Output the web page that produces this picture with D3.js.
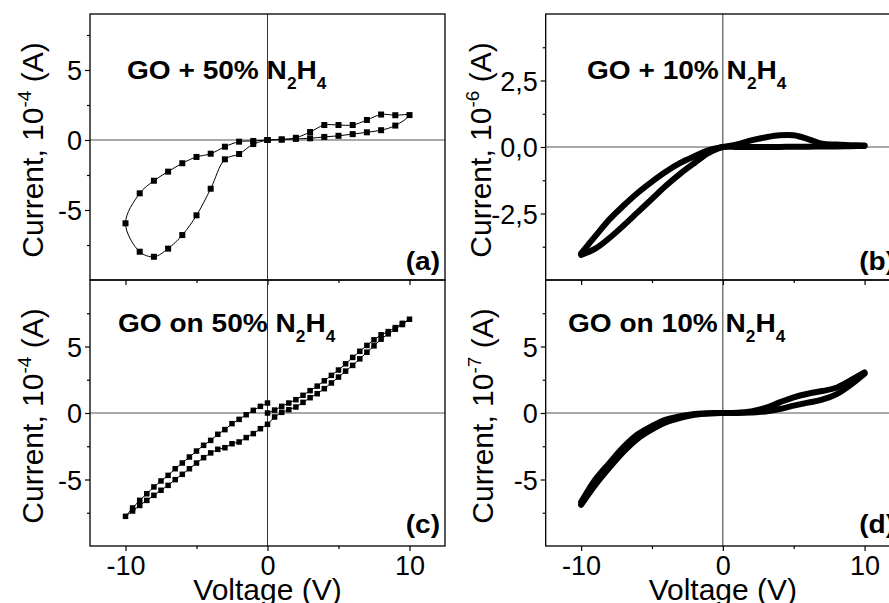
<!DOCTYPE html>
<html>
<head>
<meta charset="utf-8">
<script src="https://cdn.jsdelivr.net/npm/d3@7/dist/d3.min.js"></script>
<style>
  body { margin: 0; background: #fff; overflow: hidden; }
  text { font-family: Arial, "Liberation Sans", sans-serif; fill: #000; }
</style>
</head>
<body>
<div id="chart"></div>
<script>
// ---- data ----
// (a) GO + 50% N2H4, one sweep 0 -> 10 -> 0 -> -10 -> 0, current in 1e-4 A
const aVoltage = [0, 1, 2, 3, 4, 5, 6, 7, 8, 9, 10, 9, 8, 7, 6, 5, 4, 3, 2, 1, 0,
  -1, -2, -3, -4, -5, -6, -7, -8, -9, -10, -9, -8, -7, -6, -5, -4, -3, -2, -1, 0];
const aCurrent = [0, 0.03, 0.08, 0.12, 0.22, 0.3, 0.42, 0.55, 0.7, 1.03, 1.78,
  1.77, 1.82, 1.43, 1.07, 1.07, 1.07, 0.57, 0.16, 0.04, 0,
  -0.07, -0.12, -0.48, -0.98, -1.21, -1.66, -2.26, -2.91, -3.81, -5.95,
  -7.98, -8.34, -7.76, -6.79, -5.38, -3.48, -1.38, -1.0, -0.29, 0];

// (c) GO on 50% N2H4, 0.5 V steps, current in 1e-4 A
const cVoltage = [0, 0.5, 1, 1.5, 2, 2.5, 3, 3.5, 4, 4.5, 5, 5.5, 6, 6.5, 7, 7.5, 8, 8.5, 9, 9.5, 10,
  9.5, 9, 8.5, 8, 7.5, 7, 6.5, 6, 5.5, 5, 4.5, 4, 3.5, 3, 2.5, 2, 1.5, 1, 0.5, 0,
  -0.5, -1, -1.5, -2, -2.5, -3, -3.5, -4, -4.5, -5, -5.5, -6, -6.5, -7, -7.5, -8, -8.5, -9, -9.5, -10,
  -9.5, -9, -8.5, -8, -7.5, -7, -6.5, -6, -5.5, -5, -4.5, -4, -3.5, -3, -2.5, -2, -1.5, -1, -0.5, 0];
const cCurrent = [0, 0.22, 0.5, 0.75, 1.0, 1.33, 1.68, 2.02, 2.42, 2.83, 3.23, 3.7, 4.18, 4.64, 5.08, 5.5, 5.88, 6.12, 6.42, 6.74, 7.05,
  6.65, 6.3, 5.95, 5.55, 5.05, 4.57, 4.07, 3.58, 3.15, 2.7, 2.26, 1.83, 1.45, 1.15, 0.8, 0.45, 0.25, 0.05, -0.3, -0.85,
  -1.18, -1.55, -1.85, -2.18, -2.31, -2.61, -2.73, -3.0, -3.36, -3.76, -4.19, -4.61, -5.01, -5.44, -5.81, -6.19, -6.57, -6.95, -7.37, -7.77,
  -7.14, -6.57, -6.07, -5.56, -5.11, -4.69, -4.19, -3.76, -3.31, -2.86, -2.43, -2.06, -1.6, -1.25, -0.8, -0.48, -0.13, 0.2, 0.5, 0.75];

// (b) GO + 10% N2H4, current in 1e-6 A, two branches
const bVoltage = [-10, -9, -8, -7, -6, -5, -4, -3, -2, -1, 0, 1, 2, 3, 4, 5, 6, 7, 8, 9, 10];
const bUpper = [-4.0, -3.35, -2.72, -2.2, -1.72, -1.3, -0.92, -0.6, -0.35, -0.12, 0, 0.1, 0.25, 0.36, 0.44, 0.44, 0.3, 0.12, 0.09, 0.07, 0.06];
const bLower = [-4.06, -3.82, -3.42, -2.95, -2.45, -1.95, -1.45, -1.0, -0.6, -0.22, 0, 0, 0, 0, 0, 0.01, 0.01, 0.02, 0.02, 0.03, 0.04];

// (d) GO on 10% N2H4, current in 1e-7 A, two branches
const dVoltage = [-10, -9, -8, -7, -6, -5, -4, -3, -2, -1, 0, 1, 2, 3, 4, 5, 6, 7, 8, 9, 10];
const dUpper = [-6.7, -5.0, -3.75, -2.55, -1.6, -0.98, -0.5, -0.24, -0.07, -0.01, 0, 0.02, 0.12, 0.38, 0.8, 1.18, 1.45, 1.65, 1.9, 2.45, 3.05];
const dLower = [-6.9, -5.4, -4.1, -2.9, -1.92, -1.24, -0.7, -0.36, -0.13, -0.03, 0, 0, 0.04, 0.12, 0.3, 0.55, 0.78, 1.0, 1.4, 2.1, 2.95];

// ticks
const xMajor = [-10, 0, 10];
const xMinor = [-5, 5];
const yMajorA = [-5, 0, 5], yMinorA = [-7.5, -2.5, 2.5, 7.5];
const yMajorB = [-2.5, 0, 2.5], yMinorB = [-3.75, -1.25, 1.25, 3.75];
const yMajorCD = [-5, 0, 5], yMinorCD = [-7.5, -2.5, 2.5, 7.5];

const W = 889, H = 603;
const svg = d3.select("#chart").append("svg")
  .attr("width", W).attr("height", H);

const xLeft = d3.scaleLinear().domain([-12.5, 12.5]).range([90, 445]);
const xRight = d3.scaleLinear().domain([-12.5, 12.5]).range([545.7, 900]);
const yA = d3.scaleLinear().domain([-10, 9]).range([280, 14]);
const yB = d3.scaleLinear().domain([-5, 5]).range([280, 14]);
const yC = d3.scaleLinear().domain([-10, 10]).range([546, 280]);
const yD = d3.scaleLinear().domain([-10, 10]).range([546, 280]);

const plain = d => String(d);
const comma = d => d.toFixed(1).replace(".", ",");

function panel(x, y, o) {
  const g = svg.append("g");
  const [x0, x1] = x.range(), [y0, y1] = y.range();

  // zero lines
  g.append("line").attr("x1", x0).attr("x2", x1).attr("y1", y(0)).attr("y2", y(0))
    .attr("stroke", "#555").attr("stroke-width", 1.2);
  g.append("line").attr("x1", x(0)).attr("x2", x(0)).attr("y1", y0).attr("y2", y1)
    .attr("stroke", "#333").attr("stroke-width", 1);

  // y axis
  const ya = g.append("g").attr("transform", `translate(${x0},0)`)
    .call(d3.axisLeft(y).tickValues(o.yMajor).tickSize(5).tickPadding(3).tickFormat(o.yFmt));
  ya.select(".domain").remove();
  ya.selectAll("text").style("font-size", "27px").attr("dy", "0.36em");
  const ym = g.append("g").attr("transform", `translate(${x0},0)`)
    .call(d3.axisLeft(y).tickValues(o.yMinor).tickSize(3).tickFormat(""));
  ym.select(".domain").remove();

  // x axis
  const xa = g.append("g").attr("transform", `translate(0,${y0})`)
    .call(d3.axisBottom(x).tickValues(xMajor).tickSize(5).tickPadding(5)
      .tickFormat(o.xLabels ? plain : ""));
  xa.select(".domain").remove();
  xa.selectAll("text").style("font-size", "27px");
  const xm = g.append("g").attr("transform", `translate(0,${y0})`)
    .call(d3.axisBottom(x).tickValues(xMinor).tickSize(3).tickFormat(""));
  xm.select(".domain").remove();
  g.selectAll(".tick line").attr("stroke", "#000").attr("stroke-width", 1.2);

  // frame
  g.append("rect").attr("x", x0).attr("y", y1).attr("width", x1 - x0).attr("height", y0 - y1)
    .attr("fill", "none").attr("stroke", "#000").attr("stroke-width", 1.3);

  // y title
  const yt = g.append("text")
    .attr("transform", `translate(${o.yTitleX},${(y0 + y1) / 2 + 3}) rotate(-90)`)
    .attr("text-anchor", "middle").style("font-size", "30px");
  yt.append("tspan").text("Current, 10");
  yt.append("tspan").text(o.exp).attr("dy", -12).style("font-size", "19px");
  yt.append("tspan").text(" (A)").attr("dy", 12);

  // sample title with subscripts
  const t = g.append("text")
    .attr("transform", `translate(${o.titleX},${o.titleY}) scale(1.08,1)`)
    .style("font-size", "26px").style("font-weight", "bold");
  t.append("tspan").text(o.title);
  t.append("tspan").text("2").attr("dy", 10).style("font-size", "16px");
  t.append("tspan").text("H").attr("dy", -10);
  t.append("tspan").text("4").attr("dy", 10).style("font-size", "16px");

  // panel letter
  g.append("text")
    .attr("transform", `translate(${x1 - 5},${o.tagY}) scale(1.08,1)`)
    .attr("text-anchor", "end")
    .style("font-size", "26px").style("font-weight", "bold").text(o.tag);

  if (o.xTitle) {
    g.append("text").attr("x", x(0)).attr("y", 600).attr("text-anchor", "middle")
      .style("font-size", "30px").text("Voltage (V)");
  }
  return g;
}

const gA = panel(xLeft, yA, { yMajor: yMajorA, yMinor: yMinorA, yFmt: plain, xLabels: false,
  yTitleX: 43, exp: "-4", title: "GO + 50% N", titleX: 127, titleY: 79, tag: "(a)", tagY: 270 });
const gB = panel(xRight, yB, { yMajor: yMajorB, yMinor: yMinorB, yFmt: comma, xLabels: false,
  yTitleX: 491, exp: "-6", title: "GO + 10% N", titleX: 587, titleY: 79, tag: "(b)", tagY: 270 });
const gC = panel(xLeft, yC, { yMajor: yMajorCD, yMinor: yMinorCD, yFmt: plain, xLabels: true, xTitle: true,
  yTitleX: 43, exp: "-4", title: "GO on 50% N", titleX: 118, titleY: 332, tag: "(c)", tagY: 533 });
const gD = panel(xRight, yD, { yMajor: yMajorCD, yMinor: yMinorCD, yFmt: plain, xLabels: true, xTitle: true,
  yTitleX: 493, exp: "-7", title: "GO on 10% N", titleX: 568, titleY: 332, tag: "(d)", tagY: 533 });

// ---- (a) spline + square markers ----
const aPts = aVoltage.map((v, i) => ({ v, c: aCurrent[i] }));
gA.append("path").datum(aPts)
  .attr("fill", "none").attr("stroke", "#000").attr("stroke-width", 1)
  .attr("d", d3.line().x(d => xLeft(d.v)).y(d => yA(d.c)).curve(d3.curveCatmullRom.alpha(0.5)));
gA.selectAll("rect.m").data(aPts).join("rect").attr("class", "m")
  .attr("x", d => xLeft(d.v) - 3).attr("y", d => yA(d.c) - 3)
  .attr("width", 6).attr("height", 6).attr("fill", "#000");

// ---- (c) line + square markers ----
const cPts = cVoltage.map((v, i) => ({ v, c: cCurrent[i] }));
gC.append("path").datum(cPts)
  .attr("fill", "none").attr("stroke", "#000").attr("stroke-width", 1)
  .attr("d", d3.line().x(d => xLeft(d.v)).y(d => yC(d.c)));
gC.selectAll("rect.m").data(cPts).join("rect").attr("class", "m")
  .attr("x", d => xLeft(d.v) - 2.75).attr("y", d => yC(d.c) - 2.75)
  .attr("width", 5.5).attr("height", 5.5).attr("fill", "#000");

// ---- (b), (d) dense data drawn as thick curves ----
function thick(g, x, y, volts, vals, w) {
  const pts = volts.map((v, i) => ({ v, c: vals[i] }));
  g.append("path").datum(pts)
    .attr("fill", "none").attr("stroke", "#000").attr("stroke-width", w)
    .attr("stroke-linecap", "round").attr("stroke-linejoin", "round")
    .attr("d", d3.line().x(d => x(d.v)).y(d => y(d.c)).curve(d3.curveCatmullRom.alpha(0.5)));
}
thick(gB, xRight, yB, bVoltage, bUpper, 6);
thick(gB, xRight, yB, bVoltage, bLower, 6);
thick(gD, xRight, yD, dVoltage, dUpper, 6);
thick(gD, xRight, yD, dVoltage, dLower, 6);
</script>
</body>
</html>
